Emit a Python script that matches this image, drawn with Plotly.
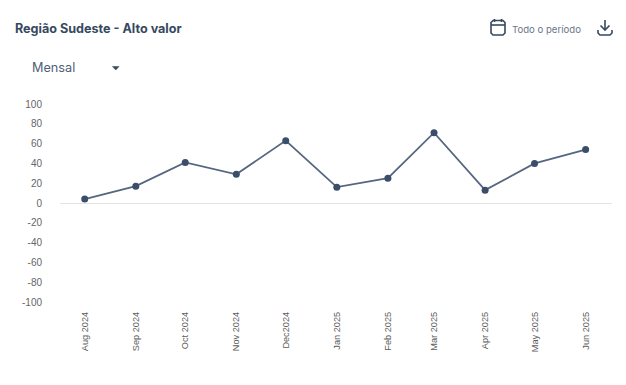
import plotly.graph_objects as go

dates = ["2024-08-01", "2024-09-01", "2024-10-01", "2024-11-01", "2024-12-01", "2025-01-01",
         "2025-02-01", "2025-03-01", "2025-04-01", "2025-05-01", "2025-06-01"]
months = ["Aug 2024", "Sep 2024", "Oct 2024", "Nov 2024", "Dec2024", "Jan 2025",
          "Feb 2025", "Mar 2025", "Apr 2025", "May 2025", "Jun 2025"]
values = [4, 17, 41, 29, 63, 16, 25, 71, 13, 40, 54]
y_ticks = [100, 80, 60, 40, 20, 0, -20, -40, -60, -80, -100]
y_labels = ["100", "80", "60", "40", "20", "0", "-20", "-40", "-60", "-80", "-100"]
x_range = ["2024-07-17", "2025-06-17"]

W, H = 626, 385
L, R, T, B = 60, 612, 104, 302
NAVY = "#36495f"

fig = go.Figure(go.Scatter(
    x=dates, y=values, mode="lines+markers",
    line=dict(color="#566680", width=1.8),
    marker=dict(color="#3a4d6b", size=7),
    hoverinfo="x+y", cliponaxis=False,
))


def px(x):
    return (x - L) / (R - L)


def py(y):
    return (B - y) / (B - T)


def path(points, close=False):
    d = " ".join(("M" if i == 0 else "L") + f"{px(x):.5f},{py(y):.5f}" for i, (x, y) in enumerate(points))
    return d + (" Z" if close else "")


def icon(points, fill=None, close=False, width=1.6):
    return dict(type="path", xref="paper", yref="paper", path=path(points, close),
                line=dict(color=NAVY, width=width), fillcolor=fill)


shapes = [
    # calendar icon
    icon([(493, 20.5), (503, 20.5), (505, 22.5), (505, 33), (503, 35), (493, 35), (491, 33), (491, 22.5)], close=True),
    icon([(491, 25), (505, 25)]),
    icon([(494.5, 19), (494.5, 22)]),
    icon([(501.5, 19), (501.5, 22)]),
    # download icon
    icon([(605, 20), (605, 30)]),
    icon([(600.5, 25.5), (605, 30), (609.5, 25.5)]),
    icon([(598, 30), (598, 33), (600, 35), (610, 35), (612, 33), (612, 30)]),
    # dropdown caret
    icon([(112.5, 66.5), (119, 66.5), (115.75, 70)], fill=NAVY, close=True, width=0.5),
]


def text(x, y, s, size, color, family="Inter", bold=False):
    return dict(xref="paper", yref="paper", x=px(x), y=py(y), text=f"<b>{s}</b>" if bold else s,
                showarrow=False, xanchor="left", yanchor="middle", xshift=-1,
                font=dict(family=family, size=size, color=color))


fig.update_layout(
    width=W, height=H, autosize=False,
    paper_bgcolor="white", plot_bgcolor="white", showlegend=False,
    margin=dict(l=L, r=W - R, t=T, b=H - B, pad=0),
    font=dict(family="Liberation Sans", color="#666666"),
    xaxis=dict(type="date", range=x_range, tickmode="array", tickvals=dates, ticktext=months,
               tickangle=-90, ticks="", showgrid=False,
               zeroline=False, showline=False, tickfont=dict(size=9.2, color="#5c5c5c"), automargin=False,
               ticklabelstandoff=7),
    yaxis=dict(range=[-100, 100], tickvals=y_ticks, ticktext=y_labels, ticks="", showgrid=False,
               zeroline=True, zerolinecolor="#e4e4e4", zerolinewidth=1, showline=False,
               tickfont=dict(size=10, color="#666666"), automargin=False, ticklabelstandoff=17),
    shapes=shapes,
    annotations=[
        text(14, 28.5, "Região Sudeste - Alto valor", 12.6, NAVY, bold=True),
        text(31, 67.5, "Mensal", 12.7, "#4f6078"),
        text(511, 29.5, "Todo o período", 9.6, "#6a7688"),
    ],
)

fig.write_html("out.html", config=dict(displayModeBar=False),
               post_script="document.body.style.margin='0';document.documentElement.style.overflow='hidden';")
